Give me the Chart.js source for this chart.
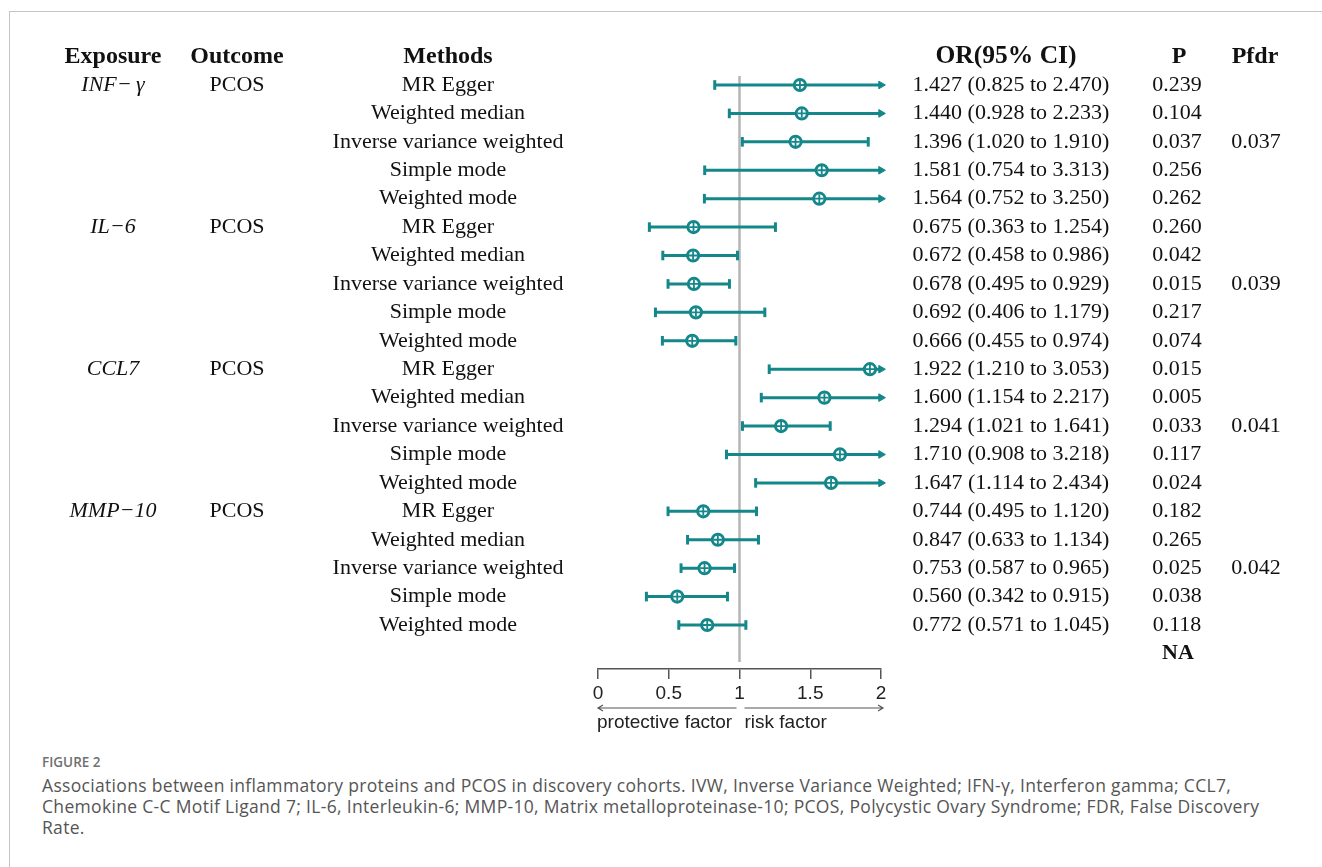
<!DOCTYPE html>
<html>
<head>
<meta charset="utf-8">
<script src="https://cdn.jsdelivr.net/npm/chart.js@4.4.1/dist/chart.umd.min.js"></script>
<style>
  html, body { margin: 0; padding: 0; background: #fff; }
  body { width: 1322px; height: 867px; position: relative; overflow: hidden; }
  #frame { position: absolute; left: 9px; top: 11px; right: -5px; bottom: -5px;
           border-top: 1.5px solid #c4c4c4; border-left: 1.5px solid #c4c4c4; }
  #wrap { position: absolute; left: 0; top: 0; width: 1322px; height: 745px; }
  #caption { position: absolute; left: 42px; top: 753px; font-family: "Open Sans", sans-serif; color: #555; }
  #caption .fig { font-size: 13.5px; font-weight: 600; color: #707070; margin-bottom: 4px; }
  #caption .txt { font-size: 17.5px; letter-spacing: 0.32px; line-height: 21px; white-space: nowrap; }
</style>
</head>
<body>
<div id="frame"></div>
<div id="wrap"><canvas id="myChart"></canvas></div>
<div id="caption">
  <div class="fig">FIGURE 2</div>
  <div class="txt">Associations between inflammatory proteins and PCOS in discovery cohorts. IVW, Inverse Variance Weighted; IFN-γ, Interferon gamma; CCL7,<br>Chemokine C-C Motif Ligand 7; IL-6, Interleukin-6; MMP-10, Matrix metalloproteinase-10; PCOS, Polycystic Ovary Syndrome; FDR, False Discovery<br>Rate.</div>
</div>
<script>
// exposures (one per block of 5 methods)
var exposures = ['INF\u2212\u2009\u03b3', 'IL\u22126', 'CCL7', 'MMP\u221210'];
var outcome = 'PCOS';
var methods = ['MR Egger', 'Weighted median', 'Inverse variance weighted', 'Simple mode', 'Weighted mode'];

// odds ratios and 95% CI, 20 rows in order
var orValues = [1.427, 1.440, 1.396, 1.581, 1.564,
                0.675, 0.672, 0.678, 0.692, 0.666,
                1.922, 1.600, 1.294, 1.710, 1.647,
                0.744, 0.847, 0.753, 0.560, 0.772];
var lowerCI  = [0.825, 0.928, 1.020, 0.754, 0.752,
                0.363, 0.458, 0.495, 0.406, 0.455,
                1.210, 1.154, 1.021, 0.908, 1.114,
                0.495, 0.633, 0.587, 0.342, 0.571];
var upperCI  = [2.470, 2.233, 1.910, 3.313, 3.250,
                1.254, 0.986, 0.929, 1.179, 0.974,
                3.053, 2.217, 1.641, 3.218, 2.434,
                1.120, 1.134, 0.965, 0.915, 1.045];
var pValues  = ['0.239', '0.104', '0.037', '0.256', '0.262',
                '0.260', '0.042', '0.015', '0.217', '0.074',
                '0.015', '0.005', '0.033', '0.117', '0.024',
                '0.182', '0.265', '0.025', '0.038', '0.118', 'NA'];
var pfdrValues = ['', '', '0.037', '', '',
                  '', '', '0.039', '', '',
                  '', '', '0.041', '', '',
                  '', '', '0.042', '', ''];
var xTicks = [0, 0.5, 1, 1.5, 2];
var xMax = 2;

var teal = '#14878a';
var ink = '#111';

var ciData = [], capData = [], arrowData = [], pointData = [];
orValues.forEach(function (v, i) {
  var hi = Math.min(upperCI[i], xMax);
  ciData.push({ x: lowerCI[i], y: i }, { x: hi, y: i }, { x: null, y: null });
  capData.push({ x: lowerCI[i], y: i });
  if (upperCI[i] > xMax) arrowData.push({ x: xMax, y: i });
  else capData.push({ x: upperCI[i], y: i });
  pointData.push({ x: v, y: i });
});

var tablePlugin = {
  id: 'tableText',
  afterDraw: function (chart) {
    var c = chart.ctx, y = chart.scales.y, x = chart.scales.x, area = chart.chartArea;
    var serif = '"Liberation Serif", "Times New Roman", serif';
    c.save();
    c.fillStyle = ink;
    c.textAlign = 'center';
    c.textBaseline = 'middle';

    var hy = y.getPixelForValue(-1);
    c.font = 'bold 24px ' + serif;
    c.fillText('Exposure', 113, hy);
    c.fillText('Outcome', 237, hy);
    c.fillText('Methods', 448, hy);
    c.font = 'bold 25.5px ' + serif;
    c.fillText('OR(95% CI)', 1006, hy);
    c.font = 'bold 24px ' + serif;
    c.fillText('P', 1179, hy);
    c.fillText('Pfdr', 1255, hy);

    orValues.forEach(function (v, i) {
      var ry = y.getPixelForValue(i);
      if (i % 5 === 0) {
        c.font = 'italic 22px ' + serif;
        c.fillText(exposures[i / 5], 113, ry);
        c.font = '22px ' + serif;
        c.fillText(outcome, 237, ry);
      }
      c.font = '22px ' + serif;
      c.fillText(methods[i % 5], 448, ry);
      c.fillText(v.toFixed(3) + ' (' + lowerCI[i].toFixed(3) + ' to ' + upperCI[i].toFixed(3) + ')', 1011, ry);
      c.fillText(pValues[i], 1177, ry);
      if (pfdrValues[i]) c.fillText(pfdrValues[i], 1256, ry);
    });
    c.font = 'bold 22px ' + serif;
    c.fillText(pValues[20], 1178, y.getPixelForValue(20));

    // direction arrows under the axis
    var ay = area.bottom + 39;
    var x0 = x.getPixelForValue(0), x1 = x.getPixelForValue(1), x2 = x.getPixelForValue(2);
    c.strokeStyle = '#555';
    c.lineWidth = 1.2;
    c.beginPath();
    c.moveTo(x0, ay); c.lineTo(x1 - 3, ay);
    c.moveTo(x0 + 5, ay - 3); c.lineTo(x0, ay); c.lineTo(x0 + 5, ay + 3);
    c.moveTo(x1 + 5, ay); c.lineTo(x2 + 2, ay);
    c.moveTo(x2 - 3, ay - 3); c.lineTo(x2 + 2, ay); c.lineTo(x2 - 3, ay + 3);
    c.stroke();
    c.font = '19px "Liberation Sans", Arial, sans-serif';
    c.fillStyle = '#222';
    c.textAlign = 'left';
    c.fillText('protective factor', x0 - 1, ay + 15);
    c.fillText('risk factor', x1 + 5, ay + 15);
    c.restore();
  }
};

var ctx = document.getElementById('myChart').getContext('2d');
var myChart = new Chart(ctx, {
  type: 'scatter',
  data: {
    datasets: [{
      data: [{ x: 1, y: -0.32 }, { x: 1, y: 20.3 }],
      showLine: true,
      borderColor: '#b5b5b5',
      borderWidth: 2.5,
      pointRadius: 0,
      order: 10,
      clip: false
    }, {
      data: ciData,
      showLine: true,
      spanGaps: false,
      borderColor: teal,
      borderWidth: 3,
      pointRadius: 0,
      order: 6,
      clip: false
    }, {
      data: capData,
      pointStyle: 'line',
      rotation: 90,
      pointRadius: 4.8,
      borderColor: teal,
      pointBorderWidth: 3,
      order: 5,
      clip: false
    }, {
      data: arrowData,
      pointStyle: 'triangle',
      rotation: 90,
      pointRadius: 4.4,
      borderColor: teal,
      backgroundColor: teal,
      pointBorderWidth: 1,
      order: 5,
      clip: false
    }, {
      data: pointData,
      pointStyle: 'circle',
      pointRadius: 5.6,
      borderColor: teal,
      backgroundColor: '#fff',
      pointBorderWidth: 3,
      order: 2,
      clip: false
    }, {
      data: pointData,
      pointStyle: 'cross',
      pointRadius: 4.2,
      borderColor: teal,
      pointBorderWidth: 1.8,
      order: 1,
      clip: false
    }]
  },
  options: {
    responsive: true,
    maintainAspectRatio: false,
    animation: false,
    events: [],
    layout: { padding: { left: 598, right: 441, top: 40, bottom: 40 } },
    plugins: { legend: { display: false }, tooltip: { enabled: false } },
    scales: {
      x: {
        type: 'linear',
        min: 0,
        max: xMax,
        afterBuildTicks: function (s) { s.ticks = xTicks.map(function (v) { return { value: v }; }); },
        afterFit: function (s) { s.height = 36; },
        ticks: {
          color: '#222',
          padding: 3,
          font: { family: '"Liberation Sans", Arial, sans-serif', size: 19 },
          callback: function (v) { return String(v); }
        },
        grid: { drawOnChartArea: false, drawTicks: true, tickLength: 10, color: '#555', lineWidth: 1.5 },
        border: { display: true, color: '#555', width: 1.5 }
      },
      y: {
        type: 'linear',
        reverse: true,
        min: -1.583,
        max: 20.548,
        display: false
      }
    }
  },
  plugins: [tablePlugin]
});
</script>
</body>
</html>
